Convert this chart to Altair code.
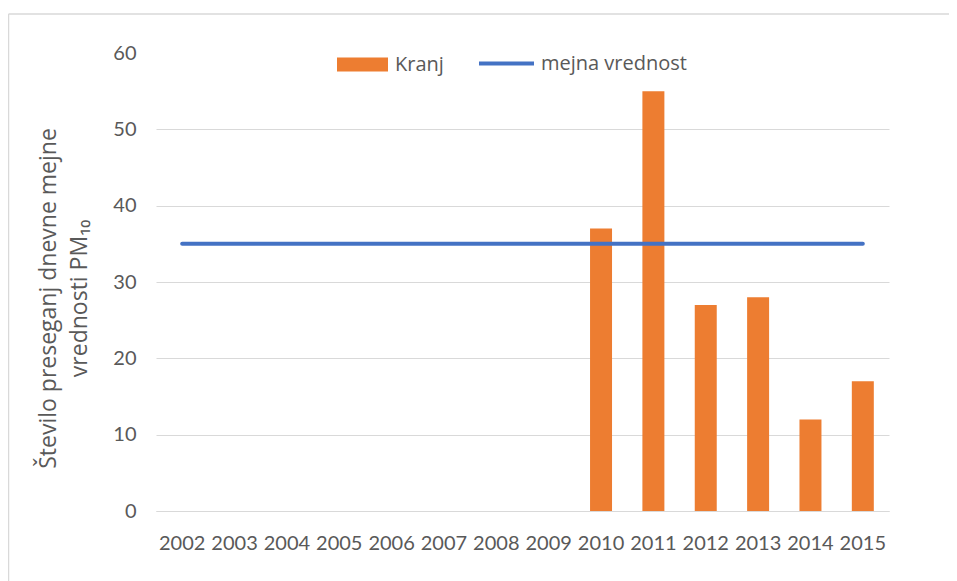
import altair as alt
import pandas as pd

# ---- data ----
years = ["2002", "2003", "2004", "2005", "2006", "2007", "2008",
         "2009", "2010", "2011", "2012", "2013", "2014", "2015"]
kranj = [None, None, None, None, None, None, None, None, 37, 55, 27, 28, 12, 17]
limit_value = [35, 35, 35, 35, 35, 35, 35, 35, 35, 35, 35, 35, 35, 35]
bar_series = "Kranj"
line_series = "mejna vrednost"
y_ticks = [0, 10, 20, 30, 40, 50, 60]
y_title = ["Število preseganj dnevne mejne", "vrednosti PM₁₀"]

ORANGE = "#ED7D31"
BLUE = "#4472C4"
GRID = "#D9D9D9"
TEXT = "#595959"
FONT = "Lato"
FONT2 = "Open Sans"

df = pd.DataFrame({
    "year": years,
    "kranj": kranj,
    "limit": limit_value,
    "s_bar": [bar_series] * len(years),
    "s_line": [line_series] * len(years),
})

x_scale = alt.Scale(domain=years, paddingInner=0.58, paddingOuter=0.29)
y_scale = alt.Scale(domain=[0, 60], nice=False)

x_axis = alt.Axis(title=None, labelAngle=0, labelFont=FONT, labelFontSize=20,
                  labelColor=TEXT, labelPadding=22, ticks=False, grid=False,
                  domainColor=GRID, domainWidth=1, labelOverlap=False)
y_axis = alt.Axis(values=y_ticks, title=y_title, titleFont=FONT2, titleFontSize=23,
                  titleFontWeight="normal", titleColor=TEXT, titleX=-101, titleY=245,
                  titleAlign="center", titleBaseline="alphabetic", titleLineHeight=31,
                  titleAngle=270,
                  labelFont=FONT, labelFontSize=20, labelColor=TEXT, labelPadding=20,
                  ticks=False, domain=False, gridColor=GRID, gridWidth=1,
                  gridOpacity={"condition": {"test": "datum.value == 60", "value": 0}, "value": 1})

bars = alt.Chart(df).mark_bar().encode(
    x=alt.X("year:O", scale=x_scale, axis=x_axis),
    y=alt.Y("kranj:Q", scale=y_scale, axis=y_axis),
    fill=alt.Fill("s_bar:N",
                  scale=alt.Scale(domain=[bar_series], range=[ORANGE]),
                  legend=alt.Legend(orient="none", legendX=181, legendY=-14, title=None,
                                    symbolType="M-1,-0.275H1V0.275H-1Z", symbolSize=2601,
                                    symbolStrokeWidth=0, symbolOpacity=1,
                                    labelFont=FONT2, labelFontSize=20, labelColor=TEXT,
                                    labelOffset=7, padding=0)),
)

line = alt.Chart(df).mark_line(strokeWidth=4, strokeCap="round").encode(
    x=alt.X("year:O", scale=x_scale, axis=x_axis),
    y=alt.Y("limit:Q", scale=y_scale, axis=y_axis),
    stroke=alt.Stroke("s_line:N",
                      scale=alt.Scale(domain=[line_series], range=[BLUE]),
                      legend=alt.Legend(orient="none", legendX=321, legendY=-19, title=None,
                                        symbolType="stroke", symbolSize=3025,
                                        symbolStrokeWidth=4,
                                        labelFont=FONT2, labelFontSize=20, labelColor=TEXT,
                                        labelOffset=5, padding=0)),
)

one = alt.Data(values=[{}])
frame_top = alt.Chart(one).mark_rule(color=GRID, strokeWidth=1.5).encode(
    x=alt.value(-147.5), x2=alt.value(800), y=alt.value(-39))
frame_left = alt.Chart(one).mark_rule(color=GRID, strokeWidth=1.5).encode(
    x=alt.value(-147.5), y=alt.value(-39), y2=alt.value(540))

chart = alt.layer(frame_top, frame_left, bars, line).properties(
    width=733, height=458,
    autosize=alt.AutoSizeParams(type="none"),
    padding={"left": 148, "top": 45, "right": 60, "bottom": 75},
    background="white",
).configure_view(stroke=None)

chart.save("out.html", embed_options={"renderer": "svg", "actions": False})
